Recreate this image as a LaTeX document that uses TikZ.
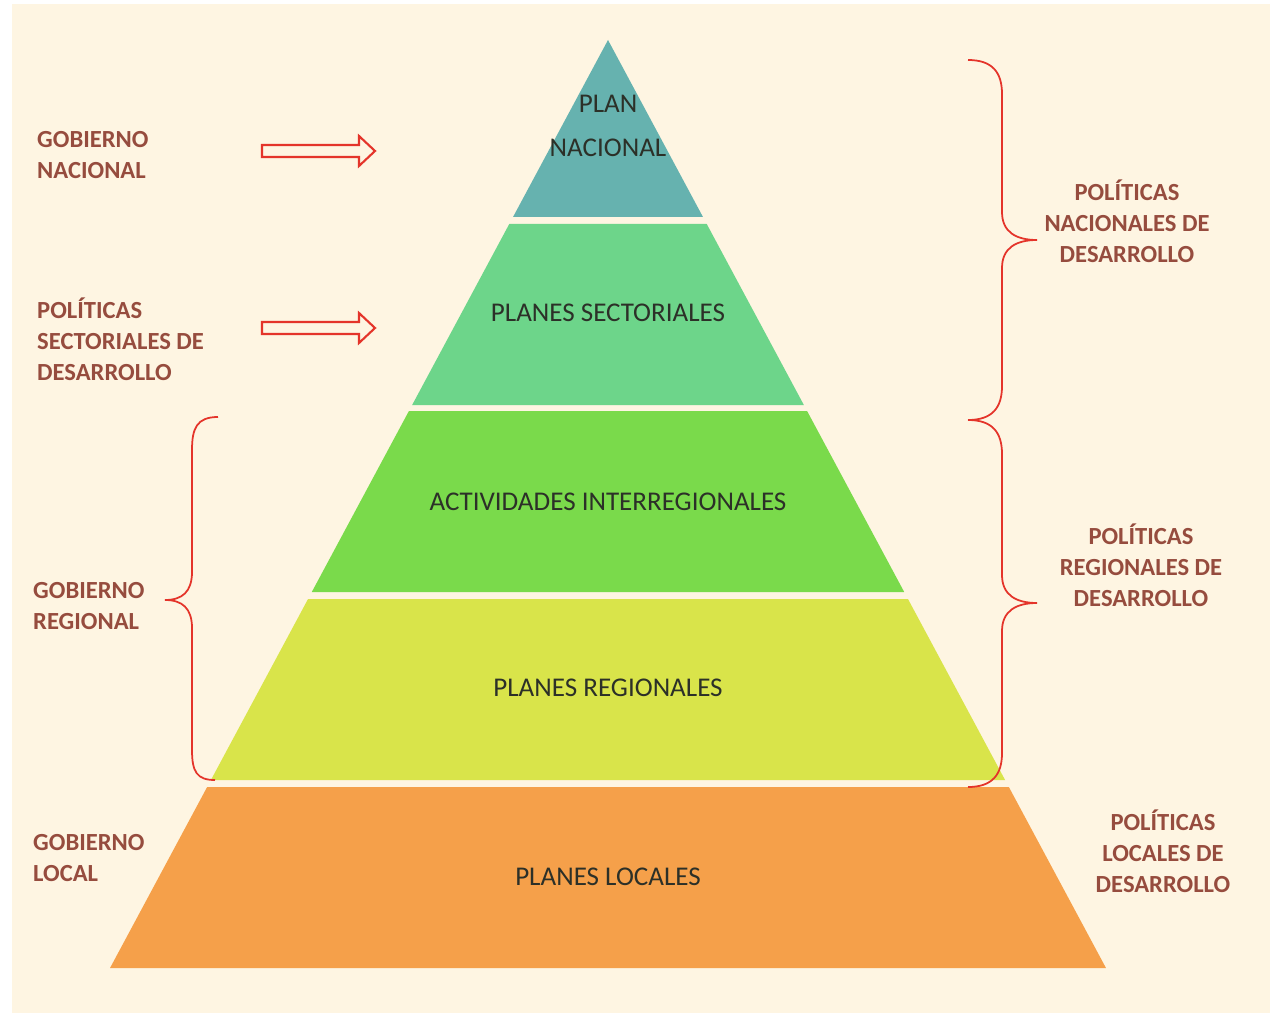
\documentclass[tikz,border=0pt]{standalone}
\usepackage{fontspec}
\setmainfont{Carlito}

\definecolor{fondo}{RGB}{254,245,226}
\definecolor{capaA}{RGB}{102,178,175}
\definecolor{capaB}{RGB}{109,213,138}
\definecolor{capaC}{RGB}{122,218,75}
\definecolor{capaD}{RGB}{217,228,74}
\definecolor{capaE}{RGB}{245,160,74}
\definecolor{rojo}{RGB}{228,52,42}
\definecolor{marron}{RGB}{150,76,62}
\definecolor{texto}{RGB}{44,48,40}

\begin{document}
\begin{tikzpicture}[x=0.02cm, y=-0.02cm,
    nivel/.style = {text=texto, font=\fontsize{15.4}{25}\selectfont, align=center},
    etiqueta/.style = {text=marron, font=\fontsize{14}{17.6}\selectfont\bfseries},
    llave/.style = {draw=rojo, line width=1pt},
    flecha/.style = {draw=rojo, fill=fondo, line width=1.2pt, line join=miter}]
    % Background
    \fill[white] (0,0) rectangle (1270,1013);
    \fill[fondo] (12,4) rectangle (1270,1013);

    % Pyramid layers (apex at 608,40)
    \foreach \t/\b/\c in {40/217/capaA, 224/405/capaB, 411/592/capaC, 599/780/capaD, 787/968/capaE}
        \fill[\c] ({608-0.5366*(\t-40)},\t) -- ({608+0.5366*(\t-40)},\t)
            -- ({608+0.5366*(\b-40)},\b) -- ({608-0.5366*(\b-40)},\b) -- cycle;

    % Texts inside the pyramid
    \node[nivel] (plan) at (608,126) {PLAN\\NACIONAL};
    \node[nivel] (sectorial) at (608,313) {PLANES SECTORIALES};
    \node[nivel] (inter) at (608,502) {ACTIVIDADES INTERREGIONALES};
    \node[nivel] (regional) at (608,688) {PLANES REGIONALES};
    \node[nivel] (local) at (608,877) {PLANES LOCALES};

    % Left labels
    \node[etiqueta, anchor=west, align=left] (gobnac) at (31,155) {GOBIERNO\\NACIONAL};
    \node[etiqueta, anchor=west, align=left] (polsec) at (31,339) {POLÍTICAS\\SECTORIALES DE\\DESARROLLO};
    \node[etiqueta, anchor=west, align=left] (gobreg) at (27,606) {GOBIERNO\\REGIONAL};
    \node[etiqueta, anchor=west, align=left] (gobloc) at (27,858) {GOBIERNO\\LOCAL};

    % Right labels
    \node[etiqueta, align=center] (polnac) at (1127,221) {POLÍTICAS\\NACIONALES DE\\DESARROLLO};
    \node[etiqueta, align=center] (polreg) at (1141,565) {POLÍTICAS\\REGIONALES DE\\DESARROLLO};
    \node[etiqueta, align=center] (polloc) at (1163,851) {POLÍTICAS\\LOCALES DE\\DESARROLLO};

    % Block arrows
    \foreach \y in {151,328}
        \draw[flecha] (262,\y-6) -- (359,\y-6) -- (359,\y-15) -- (375,\y)
            -- (359,\y+15) -- (359,\y+6) -- (262,\y+6) -- cycle;

    % Right braces
    \foreach \a/\m/\b in {60/240/420, 420/603/787}
        \draw[llave] (968,\a) .. controls (992,\a) and (1002,\a+12) .. (1002,\a+34)
            -- (1002,\m-28) .. controls (1002,\m-8) and (1016,\m) .. (1037,\m)
            .. controls (1016,\m) and (1002,\m+8) .. (1002,\m+28)
            -- (1002,\b-34) .. controls (1002,\b-12) and (992,\b) .. (968,\b);

    % Left brace
    \draw[llave] (218,417) .. controls (197,417) and (192,428) .. (192,450)
        -- (192,572) .. controls (192,592) and (182,600) .. (165,600)
        .. controls (182,600) and (192,608) .. (192,628)
        -- (192,750) .. controls (192,772) and (197,780) .. (215,780);
\end{tikzpicture}
\end{document}
